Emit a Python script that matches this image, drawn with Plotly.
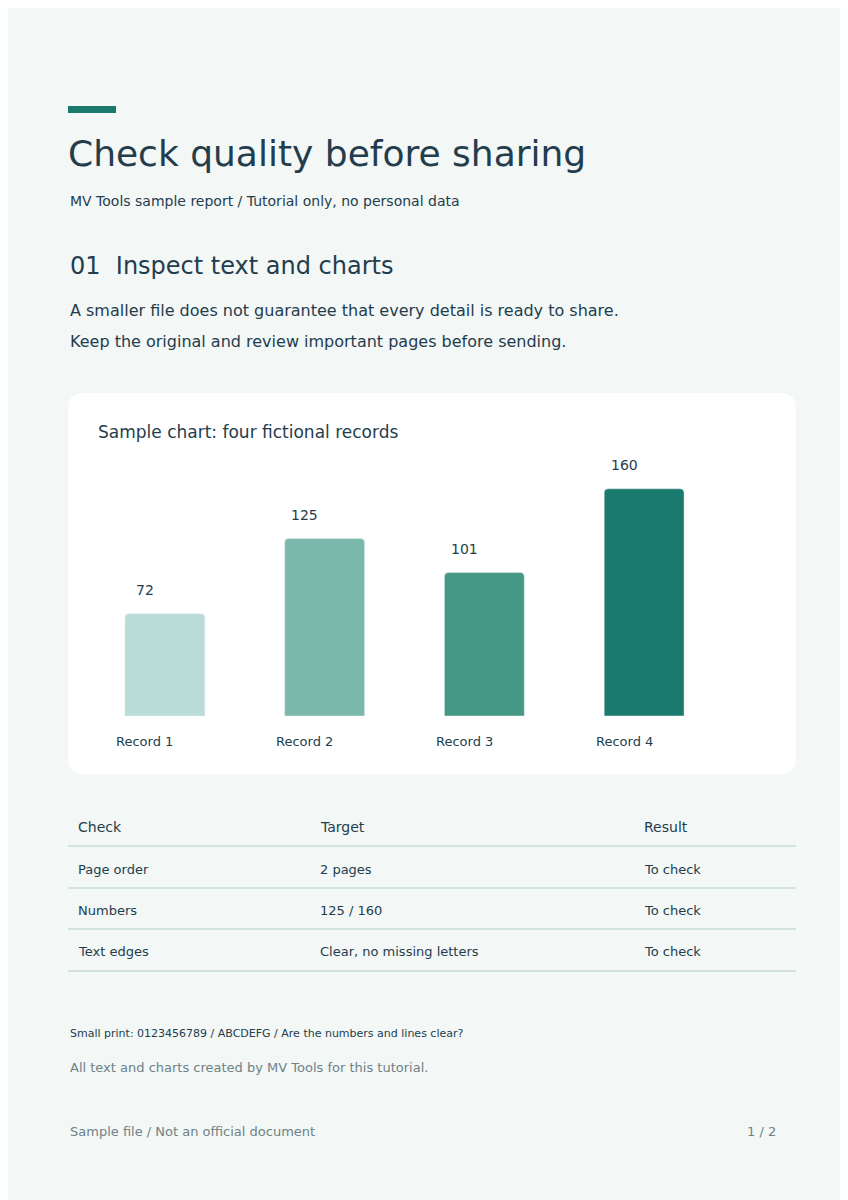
import plotly.graph_objects as go

W, H = 848, 1200
FONT = "DejaVu Sans"
DARK = "#233d4d"
GRAY = "#6e8287"

records = ["Record 1", "Record 2", "Record 3", "Record 4"]
values = [72, 125, 101, 160]
bar_colors = ["#b9ddd6", "#7bb8ac", "#469886", "#1a7a6d"]

table_header = ["Check", "Target", "Result"]
table_rows = [
    ["Page order", "2 pages", "To check"],
    ["Numbers", "125 / 160", "To check"],
    ["Text edges", "Clear, no missing letters", "To check"],
]


def px(x):
    return x / W


def py(y):
    return 1 - y / H


def text(s, x, y, size, color=DARK, anchor="left"):
    return dict(text=s, x=px(x), y=py(y), xref="paper", yref="paper",
                xanchor=anchor, yanchor="middle", showarrow=False,
                font=dict(family=FONT, size=size, color=color))


fig = go.Figure(go.Bar(
    x=records, y=values, marker=dict(color=bar_colors, cornerradius=4),
    width=0.5, hoverinfo="skip",
))

ann = [
    text("Check quality before sharing", 58, 145, 36),
    text("MV Tools sample report / Tutorial only, no personal data", 60, 193, 14),
    text("01  Inspect text and charts", 60, 258, 24),
    text("A smaller file does not guarantee that every detail is ready to share.", 60, 303, 16),
    text("Keep the original and review important pages before sending.", 60, 333, 16),
    text("Sample chart: four fictional records", 88, 424, 17),
    text("Small print: 0123456789 / ABCDEFG / Are the numbers and lines clear?", 60, 1025, 11),
    text("All text and charts created by MV Tools for this tutorial.", 60, 1059, 13, GRAY),
    text("Sample file / Not an official document", 60, 1123, 13, GRAY),
    text("1 / 2", 770, 1123, 13, GRAY, "right"),
]
for r, v in zip(records, values):
    ann.append(dict(text=str(v), x=r, y=v, xref="x", yref="y", yshift=24,
                    xshift=-20, showarrow=False,
                    font=dict(family=FONT, size=14, color=DARK)))
    ann.append(dict(text=r, x=r, y=0, xref="x", yref="y", yshift=-25,
                    xshift=-20, showarrow=False,
                    font=dict(family=FONT, size=13, color=DARK)))

col_x = [68, 310, 634]
for cx, h in zip(col_x, table_header):
    ann.append(text(h, cx, 819, 14))
for i, row in enumerate(table_rows):
    for cx, c in zip(col_x, row):
        ann.append(text(c, cx, 861 + 41 * i, 13))

shapes = [
    dict(type="rect", xref="paper", yref="paper", x0=px(60), x1=px(108),
         y0=py(98), y1=py(105), fillcolor="#1a7a6d", line_width=0),
]
# rounded white card
x0, x1, y0, y1, r = px(60), px(788), py(766), py(385), 16
rx, ry = r / W, r / H
shapes.append(dict(
    type="path", xref="paper", yref="paper", fillcolor="white", line_width=0,
    layer="below",
    path=(f"M {x0+rx},{y0} L {x1-rx},{y0} Q {x1},{y0} {x1},{y0+ry} "
          f"L {x1},{y1-ry} Q {x1},{y1} {x1-rx},{y1} L {x0+rx},{y1} "
          f"Q {x0},{y1} {x0},{y1-ry} L {x0},{y0+ry} Q {x0},{y0} {x0+rx},{y0} Z"),
))
for ly in [838, 880, 921, 963]:
    shapes.append(dict(type="line", xref="paper", yref="paper", x0=px(60),
                       x1=px(788), y0=py(ly), y1=py(ly),
                       line=dict(color="#c5ddd7", width=1.5)))

fig.update_layout(
    width=W, height=H, margin=dict(l=0, r=0, t=0, b=0),
    paper_bgcolor="#f3f7f6", plot_bgcolor="rgba(0,0,0,0)",
    showlegend=False, annotations=ann, shapes=shapes,
    xaxis=dict(domain=[px(77), px(716)], range=[-0.5, 3.5], visible=False),
    yaxis=dict(domain=[py(708), py(424)], range=[0, 200], visible=False),
)
fig.write_html("out.html")
